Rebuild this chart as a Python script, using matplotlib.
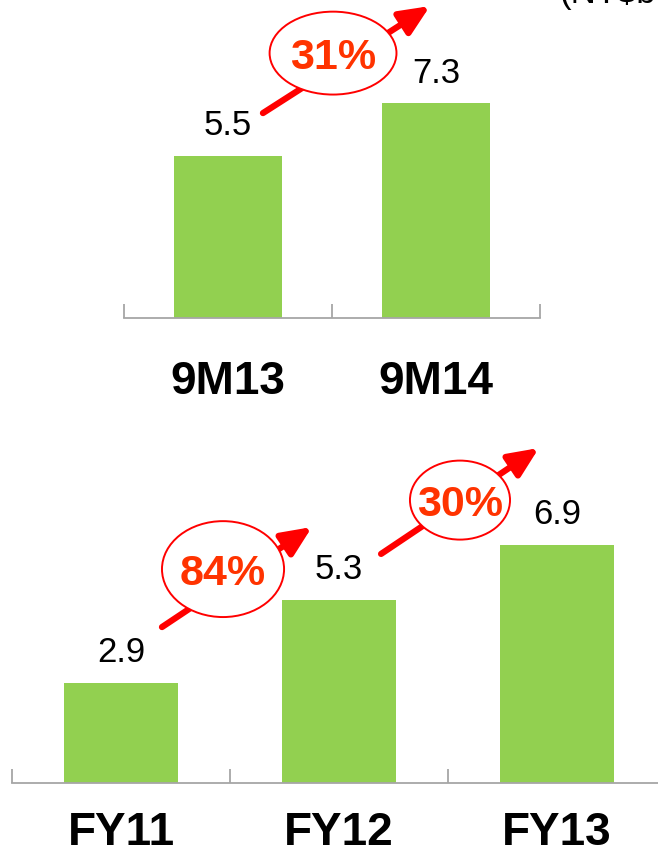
import matplotlib.pyplot as plt
from matplotlib.patches import Ellipse

plt.rcParams['font.family'] = ['Liberation Sans', 'DejaVu Sans']

# nine-month comparison
nine_month_labels = ['9M13', '9M14']
nine_month_values = [5.5, 7.3]
nine_month_growth = ['31%']

# full-year history
year_labels = ['FY11', 'FY12', 'FY13']
year_values = [2.9, 5.3, 6.9]
year_growth = ['84%', '30%']

unit_label = '(NT$bn)'

BAR_GREEN = '#92D050'
AXIS_GREY = '#A6A6A6'
RED = '#FF0000'
PCT_ORANGE = '#FF3300'

W, H = 658, 859
fig = plt.figure(figsize=(W / 100, H / 100), dpi=100)


def px_axes(left, base, right, top):
    # axes placed with pixel edges (origin at top-left of the figure)
    return fig.add_axes([left / W, 1 - base / H, (right - left) / W, (base - top) / H])


def draw_bars(ax, labels, values, ymax, label_pad):
    x = range(len(values))
    bars = ax.bar(x, values, width=0.52, color=BAR_GREEN, zorder=2)
    for b, v in zip(bars, values):
        ax.annotate(f'{v:.1f}', (b.get_x() + b.get_width() / 2, v),
                    xytext=(0, 15), textcoords='offset points',
                    ha='center', va='baseline', fontsize=25, color='black')
    ax.set_xlim(-0.5, len(values) - 0.5)
    ax.set_ylim(0, ymax)
    for s in ['top', 'left', 'right']:
        ax.spines[s].set_visible(False)
    ax.spines['bottom'].set_color(AXIS_GREY)
    ax.spines['bottom'].set_linewidth(1.3)
    ax.set_yticks([])
    ax.set_xticks(list(x))
    ax.set_xticklabels(labels, fontsize=33, fontweight='bold')
    ax.tick_params(axis='x', which='major', length=0, pad=label_pad)
    ax.set_xticks([i - 0.5 for i in range(len(values) + 1)], minor=True)
    ax.tick_params(axis='x', which='minor', direction='in', length=10,
                   color=AXIS_GREY, width=1.3)
    ax.patch.set_alpha(0)


def growth_mark(ax, start, tip, centre, w, h, text):
    ax.annotate('', xy=tip, xytext=start,
                arrowprops=dict(arrowstyle='-|>,head_length=1.8,head_width=0.8',
                                color=RED, lw=4.5, shrinkA=0, shrinkB=0),
                annotation_clip=False, zorder=3)
    ax.add_patch(Ellipse(centre, w, h, facecolor='white', edgecolor=RED,
                         lw=1.4, zorder=4, clip_on=False))
    ax.text(centre[0], centre[1], text, ha='center', va='center_baseline',
            fontsize=31, fontweight='bold', color=PCT_ORANGE, zorder=5)


ax_top = px_axes(124, 318, 540, 0)
draw_bars(ax_top, nine_month_labels, nine_month_values, 318 / 29.4, 30)
growth_mark(ax_top, (0.168, 6.97), (0.971, 10.61), (0.505, 9.01), 0.61, 2.82,
            nine_month_growth[0])

ax_bot = px_axes(12, 783, 12 + 3 * 218, 400)
draw_bars(ax_bot, year_labels, year_values, 383 / 34.5, 20)
growth_mark(ax_bot, (0.188, 4.52), (0.876, 7.42), (0.468, 6.20), 0.56, 2.78,
            year_growth[0])
growth_mark(ax_bot, (1.193, 6.64), (1.917, 9.71), (1.555, 8.20), 0.459, 2.29,
            year_growth[1])

# unit caption runs off the top-right corner
fig.text(560 / W, 1 - 3 / H, unit_label, fontsize=25, ha='left', va='baseline')

fig.savefig('out.png', dpi=100)
